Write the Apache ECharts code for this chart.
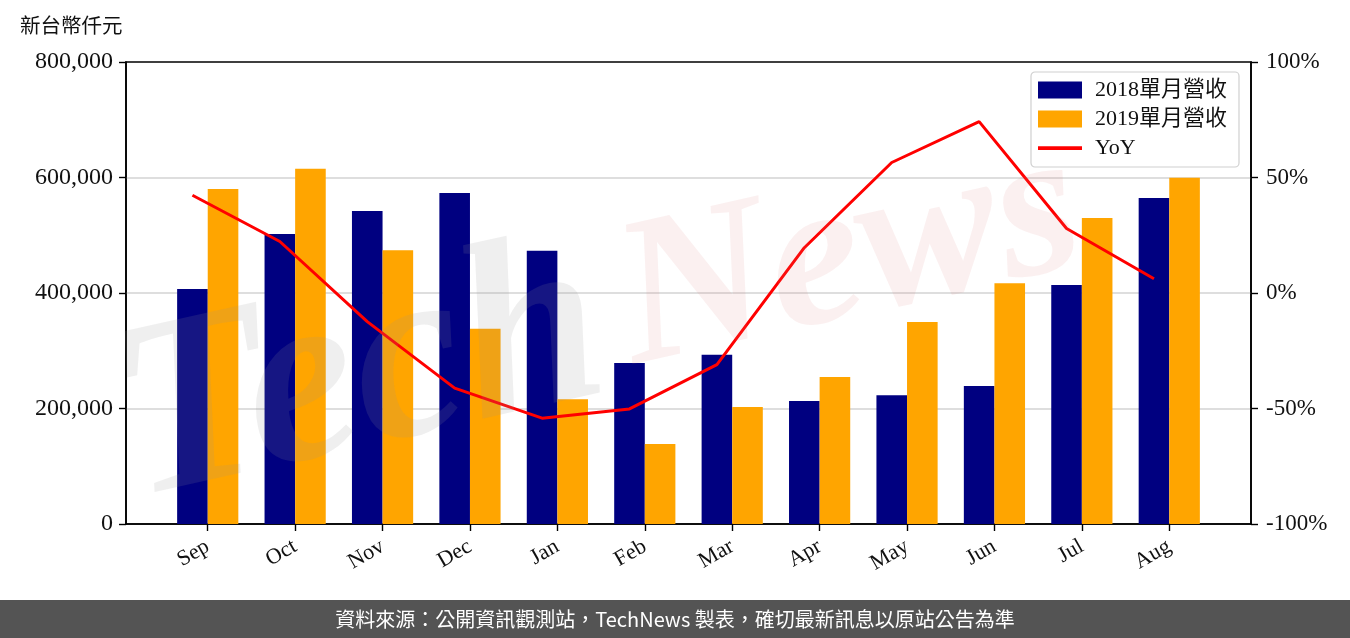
<!DOCTYPE html>
<html>
<head>
<meta charset="utf-8">
<script src="https://cdn.jsdelivr.net/npm/echarts@6/dist/echarts.min.js"></script>
<style>
  html, body { margin: 0; padding: 0; background: #fff; }
  #chart { width: 1350px; height: 638px; }
</style>
</head>
<body>
<div id="chart"></div>
<script>
const months = ['Sep', 'Oct', 'Nov', 'Dec', 'Jan', 'Feb', 'Mar', 'Apr', 'May', 'Jun', 'Jul', 'Aug']
const rev2018 = [407000, 502000, 542000, 573000, 473000, 279000, 293000, 213000, 223000, 239000, 414000, 564500]
const rev2019 = [580000, 615000, 474000, 338000, 216000, 138500, 202600, 254500, 350000, 417000, 530000, 599500]
const yoy = [42.3, 22.3, -12.4, -41.2, -54.2, -50.2, -31.0, 19.6, 56.5, 74.2, 27.9, 6.2]

const serif = '"Liberation Serif", "Noto Sans CJK TC", serif'
const sans = '"Noto Sans CJK TC", "Noto Sans", sans-serif'

const chart = echarts.init(document.getElementById('chart'))

const option = {
  animation: false,
  backgroundColor: '#fff',
  grid: {
    left: 126, right: 99, top: 62, bottom: 114,
    show: true, borderColor: '#000', borderWidth: 1.6, backgroundColor: 'transparent'
  },
  legend: {
    orient: 'vertical',
    left: 1031, top: 72,
    itemWidth: 44, itemHeight: 17, itemGap: 7,
    padding: [7, 12, 8, 7],
    borderColor: '#d0d0d0', borderWidth: 1.2, borderRadius: 4,
    backgroundColor: 'rgba(255,255,255,0.85)',
    textStyle: { fontFamily: serif, fontSize: 22, color: '#111', padding: [0, 0, 0, 8] },
    data: [
      { name: '2018單月營收', icon: 'rect' },
      { name: '2019單月營收', icon: 'rect' },
      { name: 'YoY', icon: 'path://M0,0L0,0M0,6.8L44,6.8L44,10.4L0,10.4ZM44,17L44,17' }
    ]
  },
  xAxis: {
    type: 'value',
    min: -0.935, max: 11.935,
    splitLine: { show: false },
    axisLine: { show: true, onZero: false, lineStyle: { color: '#000', width: 1.6 } },
    axisTick: { show: true, length: 7, lineStyle: { color: '#000', width: 1.4 }, customValues: months.map((m, i) => i) },
    axisLabel: {
      customValues: months.map((m, i) => i),
      formatter: v => months[Math.round(v)],
      rotate: 30, margin: 21,
      fontFamily: serif, fontSize: 22, color: '#111'
    }
  },
  yAxis: [
    {
      type: 'value', min: 0, max: 800000, interval: 200000,
      axisLine: { show: true, onZero: false, lineStyle: { color: '#000', width: 1.6 } },
      axisTick: { show: true, length: 7, lineStyle: { color: '#000', width: 1.4 } },
      axisLabel: {
        margin: 13, fontFamily: serif, fontSize: 24, color: '#111',
        formatter: v => v.toLocaleString('en-US')
      },
      splitLine: { show: true, showMaxLine: false, showMinLine: false, lineStyle: { color: '#d3d3d3', width: 1.6 } }
    },
    {
      type: 'value', min: -100, max: 100, interval: 50,
      position: 'right',
      axisLine: { show: true, onZero: false, lineStyle: { color: '#000', width: 1.6 } },
      axisTick: { show: true, length: 7, lineStyle: { color: '#000', width: 1.4 } },
      axisLabel: { margin: 15, fontFamily: serif, fontSize: 23, color: '#111', formatter: v => v + '%' },
      splitLine: { show: false }
    }
  ],
  series: [
    {
      name: '2018單月營收', type: 'bar',
      barWidth: 30.6, barGap: '0%',
      itemStyle: { color: '#000080' },
      data: rev2018.map((v, i) => [i, v])
    },
    {
      name: '2019單月營收', type: 'bar',
      barWidth: 30.6, barGap: '0%',
      itemStyle: { color: '#ffa500' },
      data: rev2019.map((v, i) => [i, v])
    },
    {
      name: 'YoY', type: 'line', yAxisIndex: 1,
      symbol: 'none', z: 5,
      lineStyle: { color: '#ff0000', width: 3 },
      itemStyle: { color: '#ff0000' },
      data: yoy.map((v, i) => [i - 0.175, v])
    }
  ],
  graphic: [
    // watermark
    {
      type: 'text', z: 100, silent: true,
      x: 360, y: 380, rotation: 0.22,
      style: {
        text: 'Tech', fontFamily: serif, fontStyle: 'italic', fontWeight: 'bold',
        fontSize: 250, fill: 'rgba(150,150,150,0.15)', align: 'center', verticalAlign: 'middle'
      }
    },
    {
      type: 'text', z: 100, silent: true,
      x: 850, y: 260, rotation: 0.22,
      style: {
        text: 'News', fontFamily: serif, fontStyle: 'italic', fontWeight: 'bold',
        fontSize: 210, fill: 'rgba(220,120,120,0.11)', align: 'center', verticalAlign: 'middle'
      }
    },
    {
      type: 'text', left: 20, top: 17,
      style: { text: '新台幣仟元', fontFamily: serif, fontSize: 20.5, fill: '#111' }
    },
    {
      type: 'rect', left: 0, top: 600, z: 50,
      shape: { width: 1350, height: 38 },
      style: { fill: '#545454' }
    },
    {
      type: 'text', z: 51, x: 675, y: 619,
      style: {
        text: '資料來源：公開資訊觀測站，TechNews 製表，確切最新訊息以原站公告為準',
        fontFamily: sans, fontSize: 20, fill: '#fff', align: 'center', verticalAlign: 'middle'
      }
    }
  ]
}

chart.setOption(option)
</script>
</body>
</html>
